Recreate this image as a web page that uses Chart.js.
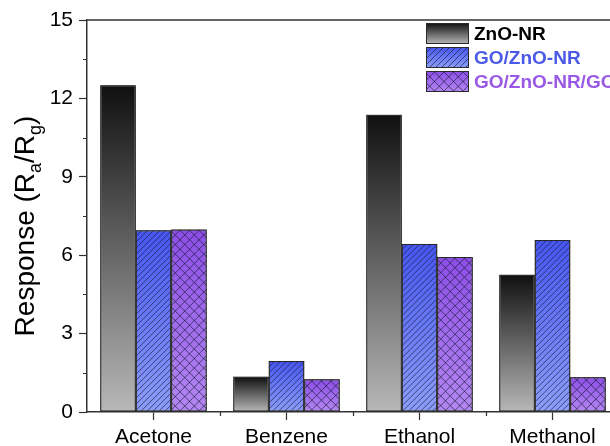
<!DOCTYPE html>
<html>
<head>
<meta charset="utf-8">
<script src="https://cdn.jsdelivr.net/npm/chart.js@4.4.1/dist/chart.umd.min.js"></script>
<style>
  html, body { margin: 0; padding: 0; background: #fff; }
  #wrap { width: 610px; height: 446px; overflow: hidden; position: relative; }
  #c { position: absolute; left: 0; top: 0; }
</style>
</head>
<body>
<div id="wrap"><canvas id="c" width="620" height="446"></canvas></div>
<script>
// ---- data ----
const categories = ['Acetone', 'Benzene', 'Ethanol', 'Methanol'];
const seriesNames = ['ZnO-NR', 'GO/ZnO-NR', 'GO/ZnO-NR/GO'];
const znoNR = [12.5, 1.35, 11.37, 5.25];
const goZnoNR = [6.95, 1.95, 6.43, 6.58];
const goZnoNRgo = [6.98, 1.25, 5.93, 1.33];
const yTicks = [0, 3, 6, 9, 12, 15];

// ---- styles ----
const gradStops = [
  ['#101010', '#b8b8b8'],
  ['#4656f0', '#8c9ef8'],
  ['#8c4ee6', '#b488f2']
];
const hatchKind = [null, 'diag', 'cross'];
const legendTextColors = ['#000000', '#4a5ae6', '#9a58e6'];
const axisColor = '#333333';

function makeGrad(ctx2d, top, bot, i) {
  const g = ctx2d.createLinearGradient(0, top, 0, bot);
  g.addColorStop(0, gradStops[i][0]);
  g.addColorStop(1, gradStops[i][1]);
  return g;
}

function drawHatch(ctx, x, y, w, h, kind) {
  if (!kind) return;
  ctx.save();
  ctx.beginPath();
  ctx.rect(x, y, w, h);
  ctx.clip();
  ctx.strokeStyle = 'rgba(20,20,50,0.8)';
  ctx.lineWidth = 0.8;
  const sp = kind === 'diag' ? 6 : 9.5;
  ctx.beginPath();
  for (let k = -h; k < w + h; k += sp) {
    ctx.moveTo(x + k, y + h);
    ctx.lineTo(x + k + h, y);
  }
  if (kind === 'cross') {
    for (let k = -h; k < w + h; k += sp) {
      ctx.moveTo(x + k, y);
      ctx.lineTo(x + k + h, y + h);
    }
  }
  ctx.stroke();
  ctx.restore();
}

const dataArrays = [znoNR, goZnoNR, goZnoNRgo];

const datasets = dataArrays.map((arr, i) => ({
  label: seriesNames[i],
  data: arr,
  backgroundColor: (c) => {
    const chart = c.chart;
    if (c.type !== 'data' || !chart.chartArea) return gradStops[i][1];
    const ys = chart.scales.y;
    const top = ys.getPixelForValue(c.raw);
    const bot = ys.getPixelForValue(0);
    return makeGrad(chart.ctx, top, bot, i);
  },
  borderColor: '#2a2a2a',
  borderWidth: 1,
  borderSkipped: false,
  categoryPercentage: 0.8,
  barPercentage: 1.0
}));

const decorPlugin = {
  id: 'decor',
  afterDatasetsDraw(chart) {
    const ctx = chart.ctx;
    chart.data.datasets.forEach((ds, i) => {
      const meta = chart.getDatasetMeta(i);
      meta.data.forEach((el) => {
        const p = el.getProps(['x', 'y', 'base', 'width'], true);
        const left = p.x - p.width / 2;
        const top = Math.min(p.y, p.base);
        const h = Math.abs(p.base - p.y);
        drawHatch(ctx, left, top, p.width, h, hatchKind[i]);
        ctx.save();
        ctx.strokeStyle = '#2a2a2a';
        ctx.lineWidth = 1;
        ctx.strokeRect(left + 0.5, top + 0.5, p.width - 1, h - 1);
        ctx.restore();
      });
    });
  },
  afterDraw(chart) {
    const ctx = chart.ctx;
    const a = chart.chartArea;
    const ys = chart.scales.y;
    const xs = chart.scales.x;
    ctx.save();
    ctx.strokeStyle = axisColor;
    ctx.lineWidth = 1.5;
    ctx.beginPath();
    ctx.moveTo(a.left, a.top);
    ctx.lineTo(a.right + 2, a.top);
    ctx.stroke();
    ctx.lineWidth = 1.2;
    ctx.beginPath();
    for (let k = 0; k < yTicks.length - 1; k++) {
      const v = (yTicks[k] + yTicks[k + 1]) / 2;
      const py = Math.round(ys.getPixelForValue(v)) + 0.5;
      ctx.moveTo(a.left, py);
      ctx.lineTo(a.left - 4, py);
    }
    for (let k = 1; k < categories.length; k++) {
      const px = Math.round((xs.getPixelForValue(k - 1) + xs.getPixelForValue(k)) / 2) + 0.5;
      ctx.moveTo(px, a.bottom);
      ctx.lineTo(px, a.bottom + 4);
    }
    ctx.stroke();

    ctx.fillStyle = '#000';
    ctx.translate(34, 226);
    ctx.rotate(-Math.PI / 2);
    const big = '28px "Liberation Sans", Arial, sans-serif';
    const small = '18px "Liberation Sans", Arial, sans-serif';
    const parts = [
      ['Response (R', big, 0],
      ['a', small, 7],
      ['/R', big, 0],
      ['g', small, 7],
      [')', big, 0]
    ];
    let total = 0;
    parts.forEach(pp => { ctx.font = pp[1]; total += ctx.measureText(pp[0]).width; });
    let cx = -total / 2;
    ctx.textBaseline = 'alphabetic';
    ctx.textAlign = 'left';
    parts.forEach(pp => {
      ctx.font = pp[1];
      ctx.fillText(pp[0], cx, pp[2]);
      cx += ctx.measureText(pp[0]).width;
    });
    ctx.restore();

    ctx.save();
    const bx = 426, bw = 43, bh = 21;
    const rowTops = [23, 47, 71];
    seriesNames.forEach((name, i) => {
      const top = rowTops[i];
      ctx.fillStyle = makeGrad(ctx, top, top + bh, i);
      ctx.fillRect(bx, top, bw, bh);
      drawHatch(ctx, bx, top, bw, bh, hatchKind[i]);
      ctx.strokeStyle = '#2a2a2a';
      ctx.lineWidth = 1;
      ctx.strokeRect(bx + 0.5, top + 0.5, bw - 1, bh - 1);
      ctx.fillStyle = legendTextColors[i];
      ctx.font = 'bold 19px "Liberation Sans", Arial, sans-serif';
      ctx.textBaseline = 'middle';
      ctx.textAlign = 'left';
      ctx.fillText(name, bx + bw + 5, top + bh / 2 + 1);
    });
    ctx.restore();
  }
};

const tickFont = { family: '"Liberation Sans", Arial, sans-serif', size: 21 };

new Chart(document.getElementById('c'), {
  type: 'bar',
  data: { labels: categories, datasets },
  options: {
    responsive: false,
    animation: false,
    devicePixelRatio: 1,
    layout: { padding: { top: 20, right: 1, left: 0, bottom: 0 } },
    plugins: { legend: { display: false }, tooltip: { enabled: false } },
    scales: {
      x: {
        offset: true,
        grid: { display: true, drawOnChartArea: false, offset: false, tickLength: 8, tickColor: axisColor, tickWidth: 1.2 },
        border: { display: true, color: axisColor, width: 1.5 },
        ticks: { color: '#000', font: tickFont, padding: 5, maxRotation: 0, autoSkip: false },
        afterFit: (s) => { s.height = 34; }
      },
      y: {
        min: 0, max: 15,
        afterBuildTicks: (s) => { s.ticks = yTicks.map(v => ({ value: v })); },
        grid: { display: true, drawOnChartArea: false, tickLength: 8, tickColor: axisColor, tickWidth: 1.2 },
        border: { display: true, color: axisColor, width: 1.5 },
        ticks: { color: '#000', font: tickFont, padding: 6 },
        afterFit: (s) => { s.width = 87; }
      }
    }
  },
  plugins: [decorPlugin]
});
</script>
</body>
</html>
